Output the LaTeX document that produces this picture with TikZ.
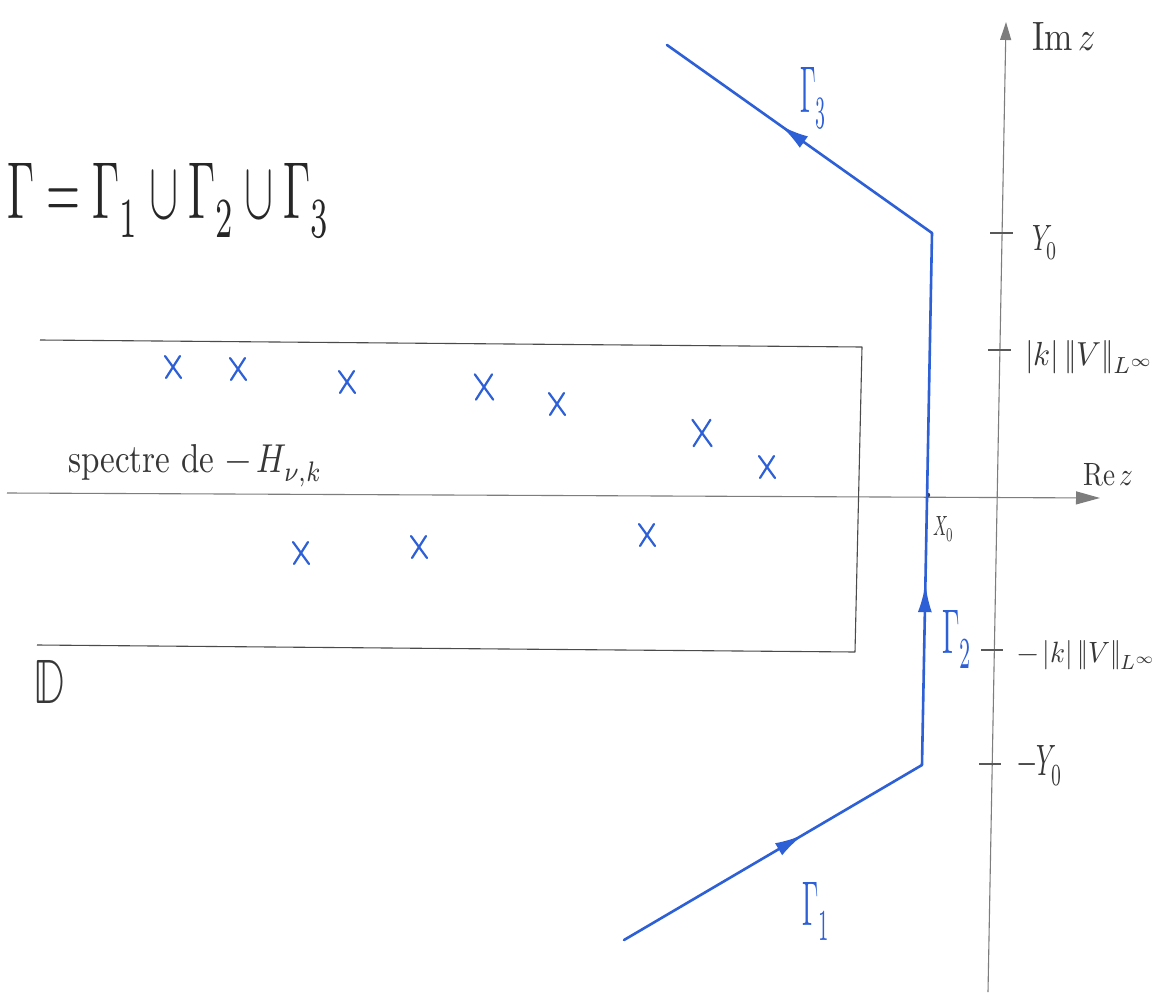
\documentclass[tikz,border=0pt]{standalone}
\usepackage{unicode-math}
\setmathfont{Latin Modern Math}
\usepackage{graphicx}
\usetikzlibrary{arrows.meta,decorations.markings}
\definecolor{pen}{RGB}{45,95,215}
\definecolor{axisgray}{RGB}{125,125,125}
\definecolor{ink}{RGB}{55,55,55}
\begin{document}
\begin{tikzpicture}[x=1pt,y=-1pt,
  axis/.style={draw=axisgray,line width=1.1pt},
  tickmark/.style={draw=axisgray!70!black,line width=1.5pt},
  contour/.style={color=pen,draw=pen,line width=2.6pt,line cap=round},
  midarrow/.style={postaction={decorate},decoration={markings,
     mark=at position #1 with {\arrow{Latex[length=28pt,width=14pt]}}}},
  lab/.style={inner sep=0pt,anchor=base west,text=ink},
  bluelab/.style={inner sep=0pt,anchor=base west,text=pen},
  crossmark/.style={draw=pen,line width=2.2pt,line cap=round},
  boxline/.style={draw=ink!90,line width=1.1pt,line join=round}]
\useasboundingbox[fill=white] (0,0) rectangle (1168,1001);

% axes
\coordinate (reS) at (7,493);
\coordinate (reE) at (1100,498);
\coordinate (imS) at (988,992);
\coordinate (imE) at (1006,22);
\draw[axis,-{Triangle[length=24pt,width=13pt]}] (reS) -- (reE);
\draw[axis,-{Triangle[length=18pt,width=11pt]}] (imS) -- (imE);

% ticks
\coordinate (t1a) at (990,233);  \coordinate (t1b) at (1013,233);
\coordinate (t2a) at (988,350);  \coordinate (t2b) at (1011,350);
\coordinate (t3a) at (981,650);  \coordinate (t3b) at (1003,650);
\coordinate (t4a) at (979,764);  \coordinate (t4b) at (1001,764);
\draw[tickmark] (t1a) -- (t1b);
\draw[tickmark] (t2a) -- (t2b);
\draw[tickmark] (t3a) -- (t3b);
\draw[tickmark] (t4a) -- (t4b);

% axis labels
\node[lab] (imz) at (1032,50) {\resizebox{63pt}{28pt}{$\mathrm{Im}\,z$}};
\node[lab] (rez) at (1083,485) {\resizebox{50pt}{22pt}{$\mathrm{Re}\,z$}};
\node[lab] (y0) at (1032,250) {\resizebox{26pt}{25pt}{$Y_0$}};
\node[lab] (kv) at (1025,365) {\resizebox{130pt}{25pt}{$|k|\,\|V\|_{L^\infty}$}};
\node[lab] (mkv) at (1017,662) {\resizebox{140pt}{22pt}{$-\,|k|\,\|V\|_{L^\infty}$}};
\node[lab] (my0) at (1017,775) {\resizebox{45pt}{30pt}{$-Y_0$}};
\node[lab] (x0) at (933,535) {\resizebox{21pt}{19pt}{$X_0$}};
\fill[ink] (928,495) circle (2.2pt);

% region D
\coordinate (d1) at (40,340);
\coordinate (d2) at (862,347);
\coordinate (d3) at (855,652);
\coordinate (d4) at (37,645);
\draw[boxline] (d1) -- (d2) -- (d3) -- (d4);
\node[lab] (dlab) at (33,703) {\resizebox{32pt}{43pt}{$\mathbb{D}$}};
\node[lab] (spec) at (68,472) {\resizebox{254pt}{28pt}{spectre de $-\,H_{\nu,k}$}};

% spectrum crosses
\foreach \px/\py/\s in {173/367/1,238/369/1,347/382/1,484/387/1.15,557/404/1,
                        702/433/1.2,767/467/1,301/553/1,419/547/1,647/535/1}{
  \draw[crossmark] (\px-8*\s,\py-11*\s) -- (\px+8*\s,\py+11*\s);
  \draw[crossmark] (\px+7*\s,\py-11*\s) -- (\px-7*\s,\py+11*\s);
}

% contour Gamma
\coordinate (A) at (624,940);
\coordinate (B) at (922,765);
\coordinate (C) at (932,233);
\coordinate (E) at (667,45);
\draw[contour,midarrow=0.6] (A) -- (B);
\draw[contour,midarrow=0.34] (B) -- (C);
\draw[contour,midarrow=0.57] (C) -- (E);
\node[bluelab] (g1) at (802,925) {\resizebox{28pt}{43pt}{$\Gamma_1$}};
\node[bluelab] (g2) at (942,653) {\resizebox{30pt}{43pt}{$\Gamma_2$}};
\node[bluelab] (g3) at (800,112) {\resizebox{27pt}{45pt}{$\Gamma_3$}};

% union formula
\node[lab,text=black!85] (gam) at (7,218) {\resizebox{323pt}{55pt}{$\Gamma=\Gamma_1\cup\Gamma_2\cup\Gamma_3$}};
\end{tikzpicture}
\end{document}
